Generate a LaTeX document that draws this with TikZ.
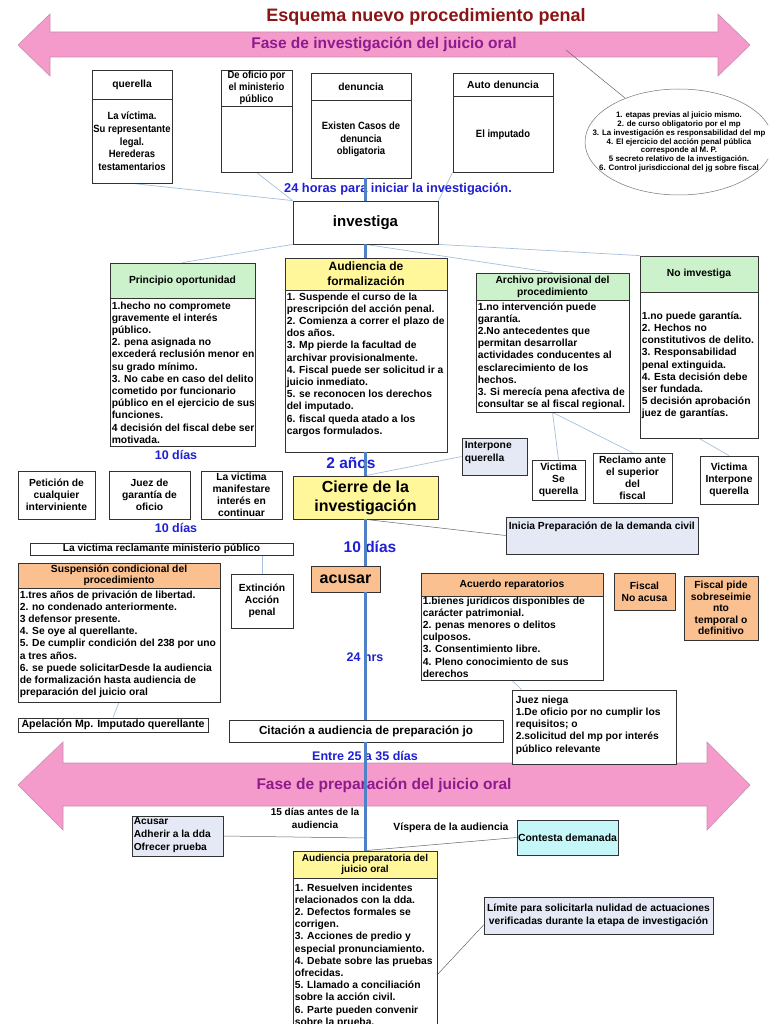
\documentclass[tikz,border=0pt]{standalone}
\usepackage{fontspec}
\setmainfont{Liberation Sans}
\newfontfamily\nar{Liberation Sans}[FakeStretch=0.9]
\usetikzlibrary{calc,shapes.geometric,backgrounds}
\definecolor{titlered}{HTML}{8B1414}
\definecolor{phasepurple}{HTML}{8E1A8E}
\definecolor{pinkfill}{HTML}{F59BCB}
\definecolor{pinkline}{HTML}{C98FAE}
\definecolor{labblue}{HTML}{1F1FD6}
\definecolor{spineblue}{HTML}{4F81C7}
\definecolor{connblue}{HTML}{A7C0DE}
\definecolor{hgreen}{HTML}{CCF2CC}
\definecolor{hyellow}{HTML}{FFF799}
\definecolor{horange}{HTML}{FAC090}
\definecolor{lavender}{HTML}{E4E9F5}
\definecolor{lcyan}{HTML}{C6F7F8}
\newcommand\fsz[2]{\fontsize{#1}{#2}\selectfont}
\begin{document}
\begin{tikzpicture}[x=1pt,y=-1pt,
  bx/.style={draw=black!80, line width=0.8pt, fill=white, inner sep=0pt},
  hd/.style={bx, font=\bfseries\fsz{10.3}{12}, align=center},
  tx/.style={font=\bfseries\fsz{10.3}{12.2}, align=left, inner sep=0pt},
  ctx/.style={font=\bfseries\fsz{10.3}{12.2}, align=center, inner sep=0pt},
  ntx/.style={font=\nar\bfseries\fsz{10.5}{12.7}, align=center, inner sep=0pt},
  blab/.style={text=labblue, font=\bfseries\fsz{12.5}{14}, inner sep=0pt},
  bigblab/.style={text=labblue, font=\bfseries\fsz{15.5}{17}, inner sep=0pt},
  phase/.style={text=phasepurple, font=\bfseries\fsz{15.5}{17}, inner sep=0pt},
  conn/.style={draw=connblue, line width=0.7pt},
  grayconn/.style={draw=black!60, line width=0.5pt},
  spine/.style={draw=spineblue, line width=2.8pt},
  pinkarrow/.style={fill=pinkfill, draw=pinkline, line width=0.6pt},
]
\clip (0,0) rectangle (768,1024);

% ---------- title and phase arrows ----------
\node[font=\bfseries\fsz{18}{21}, text=titlered, inner sep=0pt] (title) at (426,17) {Esquema nuevo procedimiento penal};
\node[phase] (fase1) at (384,44) {Fase de investigación del juicio oral};
\node[phase] (fase2) at (384,785) {Fase de preparación del juicio oral};
\coordinate (fase1end) at (566,50);

% ellipse
\node[ellipse, draw=black!55, line width=0.5pt, fill=white, minimum width=188, minimum height=106, inner sep=0pt] (ell) at (679,142) {};
\node[font=\bfseries\fsz{7.9}{8.9}, align=center, inner sep=0pt] (elltxt) at (ell.center) {1. etapas previas al juicio mismo.\\2. de curso obligatorio por el mp\\3. La investigación es responsabilidad del mp\\4. El ejercicio del acción penal pública\\corresponde al M. P.\\5 secreto relativo de la investigación.\\6. Control jurisdiccional del jg sobre fiscal};

% ---------- top row ----------
\node[bx, minimum width=80, minimum height=113] (q) at (132,126.5) {};
\node[hd, minimum width=80, minimum height=29, anchor=north] (qh) at (q.north) {querella};
\node[ntx] (qt) at ($(qh.south)!0.5!(q.south)$) {La víctima.\\Su representante\\legal.\\Herederas\\testamentarios};

\node[bx, minimum width=71, minimum height=102] (do) at (256.5,121) {};
\node[hd, font=\nar\bfseries\fsz{10.5}{12}, minimum width=71, minimum height=36, anchor=north] (doh) at (do.north) {De oficio por\\el ministerio\\público};

\node[bx, minimum width=100, minimum height=105] (den) at (361,125.5) {};
\node[hd, minimum width=100, minimum height=27, anchor=north] (denh) at (den.north) {denuncia};
\node[ntx] (dent) at ($(denh.south)!0.5!(den.south)$) {Existen Casos de\\denuncia\\obligatoria};

\node[bx, minimum width=100, minimum height=99] (ad) at (503,122.5) {};
\node[hd, minimum width=100, minimum height=23, anchor=north] (adh) at (ad.north) {Auto denuncia};
\node[ntx] (adt) at ($(adh.south)!0.5!(ad.south)$) {El imputado};

\node[blab, font=\bfseries\fsz{12.8}{14}] (h24) at (398,189) {24 horas para iniciar la investigación.};

\node[bx, minimum width=145, minimum height=43, font=\bfseries\fsz{15}{17}] (inv) at (365.5,222.5) {investiga};

% ---------- second row ----------
\node[bx, minimum width=145, minimum height=183] (po) at (182.5,354.5) {};
\node[hd, fill=hgreen, minimum width=145, minimum height=35, anchor=north] (poh) at (po.north) {Principio oportunidad};
\node[tx, anchor=north west] (pot) at ($(poh.south west)+(2,3)$) {1.hecho no compromete\\gravemente el interés\\público.\\2. pena asignada no\\excederá reclusión menor en\\su grado mínimo.\\3. No cabe en caso del delito\\cometido por funcionario\\público en el ejercicio de sus\\funciones.\\4 decisión del fiscal debe ser\\motivada.};

\node[bx, minimum width=162, minimum height=194] (af) at (366,355) {};
\node[hd, fill=hyellow, minimum width=162, minimum height=32, anchor=north, font=\bfseries\fsz{12}{15}] (afh) at (af.north) {Audiencia de\\formalización};
\node[tx, anchor=north west] (aft) at ($(afh.south west)+(2,2)$) {1. Suspende el curso de la\\prescripción del acción penal.\\2. Comienza a correr el plazo de\\dos años.\\3. Mp pierde la facultad de\\archivar provisionalmente.\\4. Fiscal puede ser solicitud ir a\\juicio inmediato.\\5. se reconocen los derechos\\del imputado.\\6. fiscal queda atado a los\\cargos formulados.};

\node[bx, minimum width=153, minimum height=139] (arch) at (552.5,342.5) {};
\node[hd, fill=hgreen, minimum width=153, minimum height=27, anchor=north] (archh) at (arch.north) {Archivo provisional del\\procedimiento};
\node[tx, anchor=north west] (archt) at ($(archh.south west)+(2,2)$) {1.no intervención puede\\garantía.\\2.No antecedentes que\\permitan desarrollar\\actividades conducentes al\\esclarecimiento de los\\hechos.\\3. Si merecía pena afectiva de\\consultar se al fiscal regional.};

\node[bx, minimum width=118, minimum height=182] (noinv) at (699,347) {};
\node[hd, fill=hgreen, minimum width=118, minimum height=36, anchor=north] (noinvh) at (noinv.north) {No imvestiga};
\node[tx, anchor=west] (noinvt) at ($(noinvh.south west)!0.5!(noinv.south west)+(2,0)$) {1.no puede garantía.\\2. Hechos no\\constitutivos de delito.\\3. Responsabilidad\\penal extinguida.\\4. Esta decisión debe\\ser fundada.\\5 decisión aprobación\\juez de garantías.};

% ---------- small boxes row ----------
\node[blab] (d10a) at (176,455) {10 días};
\node[bigblab] (a2) at (351,463) {2 años};

\node[bx, fill=lavender, minimum width=65, minimum height=37] (ipq) at (494.5,456.5) {};
\node[tx, anchor=north west] (ipqt) at ($(ipq.north west)+(3,4)$) {Interpone\\querella};
\node[bx, ctx, minimum width=53, minimum height=40] (vsq) at (558.5,480) {Victima\\Se\\querella};
\node[bx, ctx, minimum width=79, minimum height=50] (rsf) at (632.5,478) {Reclamo ante\\el superior\\del\\fiscal};
\node[bx, ctx, minimum width=58, minimum height=48] (vipq) at (729,480) {Victima\\Interpone\\querella};

\node[bx, ctx, minimum width=77, minimum height=48] (pet) at (56.5,495) {Petición de\\cualquier\\interviniente};
\node[bx, ctx, minimum width=81, minimum height=48] (jgo) at (149.5,495) {Juez de\\garantía de\\oficio};
\node[bx, ctx, minimum width=81, minimum height=48] (lvm) at (241.5,495) {La victima\\manifestare\\interés en\\continuar};
\node[bx, fill=hyellow, minimum width=145, minimum height=43, align=center, font=\bfseries\fsz{16}{19}] (ci) at (365.5,497.5) {Cierre de la\\investigación};

\node[blab] (d10b) at (176,528) {10 días};
\node[bigblab] (d10c) at (370,547) {10 días};

\node[bx, fill=lavender, minimum width=192, minimum height=37] (ipdc) at (602,535.5) {};
\node[tx, anchor=north west] (ipdct) at ($(ipdc.north west)+(3,5)$) {Inicia Preparación de la demanda civil};

\node[bx, minimum width=263, minimum height=12, font=\bfseries\fsz{10.2}{11}] (lvr) at (161.5,549) {La victima reclamante ministerio público};

% ---------- acusar row ----------
\node[bx, minimum width=202, minimum height=139] (sus) at (119,632.5) {};
\node[hd, fill=horange, minimum width=202, minimum height=25, anchor=north, font=\bfseries\fsz{10.3}{11}] (sush) at (sus.north) {Suspensión condicional del\\procedimiento};
\node[tx, anchor=north west] (sust) at ($(sush.south west)+(2,2)$) {1.tres años de privación de libertad.\\2. no condenado anteriormente.\\3 defensor presente.\\4. Se oye al querellante.\\5. De cumplir condición del 238 por uno\\a tres años.\\6. se puede solicitarDesde la audiencia\\de formalización hasta audiencia de\\preparación del juicio oral};

\node[bx, ctx, minimum width=62, minimum height=54] (ext) at (262,601) {Extinción\\Acción\\penal};
\node[bx, fill=horange, minimum width=69, minimum height=26, font=\bfseries\fsz{16}{18}] (ac) at (345.5,579) {acusar};

\node[bx, minimum width=182, minimum height=107] (arep) at (512,626.5) {};
\node[hd, fill=horange, minimum width=182, minimum height=23, anchor=north] (areph) at (arep.north) {Acuerdo reparatorios};
\node[tx, anchor=north west] (arept) at ($(areph.south west)+(2,0)$) {1.bienes jurídicos disponibles de\\carácter patrimonial.\\2. penas menores o delitos\\culposos.\\3. Consentimiento libre.\\4. Pleno conocimiento de sus\\derechos};

\node[bx, ctx, fill=horange, minimum width=61, minimum height=37] (fna) at (644.5,591.5) {Fiscal\\No acusa};
\node[bx, ctx, fill=horange, minimum width=74, minimum height=64, font=\bfseries\fsz{10.3}{11.6}] (fps) at (721,608) {Fiscal pide\\sobreseimie\\nto\\temporal o\\definitivo};

\node[blab] (h24b) at (365,657) {24 hrs};

\node[bx, minimum width=190, minimum height=14, font=\bfseries\fsz{10.6}{11}] (apel) at (113,725) {Apelación Mp. Imputado querellante};
\node[bx, minimum width=164, minimum height=74] (jn) at (594,727) {};
\node[tx, anchor=north west] (jnt) at ($(jn.north west)+(4,6)$) {Juez niega\\1.De oficio por no cumplir los\\requisitos; o\\2.solicitud del mp por interés\\público relevante};

\node[bx, minimum width=274, minimum height=22, font=\bfseries\fsz{11.7}{12}] (cit) at (366,731) {Citación a audiencia de preparación jo};
\node[blab] (e2535) at (365,756) {Entre 25 a 35 días};

% ---------- preparation phase ----------
\node[font=\bfseries\fsz{10}{12.5}, align=center, inner sep=0pt] (d15) at (315,818.5) {15 días antes de la\\audiencia};
\node[font=\bfseries\fsz{10.4}{12}, inner sep=0pt] (visp) at (451,828) {Víspera de la audiencia};
\node[bx, fill=lavender, minimum width=91, minimum height=40] (aap) at (177.5,836) {};
\node[tx, font=\bfseries\fsz{10.2}{13.3}, anchor=north west] (aapt) at ($(aap.north west)+(2,1.5)$) {Acusar\\Adherir a la dda\\Ofrecer prueba};
\node[bx, fill=lcyan, minimum width=101, minimum height=35, font=\bfseries\fsz{10.4}{12}] (cd) at (567.5,837.5) {Contesta demanada};

\node[bx, minimum width=144, minimum height=200] (app) at (365,951) {};
\node[hd, fill=hyellow, minimum width=144, minimum height=27, anchor=north, font=\bfseries\fsz{10}{11.5}] (apph) at (app.north) {Audiencia preparatoria del\\juicio oral};
\node[tx, anchor=north west] (appt) at ($(apph.south west)+(2,5)$) {1. Resuelven incidentes\\relacionados con la dda.\\2. Defectos formales se\\corrigen.\\3. Acciones de predio y\\especial pronunciamiento.\\4. Debate sobre las pruebas\\ofrecidas.\\5. Llamado a conciliación\\sobre la acción civil.\\6. Parte pueden convenir\\sobre la prueba.};

\node[bx, fill=lavender, minimum width=229, minimum height=37, align=center, font=\bfseries\fsz{10.3}{12.5}] (lim) at (598.5,915.5) {Límite para solicitarla nulidad de actuaciones\\verificadas durante la etapa de investigación};

\coordinate (sp1) at (365.5,838);
\coordinate (appe) at (437,975);

% ---------- background: arrows and thin connectors ----------
\begin{scope}[on background layer]
\fill[white] (0,0) rectangle (768,1024);
\draw[pinkarrow] (18,45) -- (50,14) -- (50,32) -- (718,32) -- (718,14) -- (750,45) -- (718,76) -- (718,57) -- (50,57) -- (50,76) -- cycle;
\draw[pinkarrow] (18,785) -- (63,742) -- (63,763) -- (707,763) -- (707,742) -- (750,785) -- (707,830) -- (707,806) -- (63,806) -- (63,830) -- cycle;
\draw[grayconn] (fase1end) -- (ell);
\draw[conn] (q.south) -- (inv.north west);
\draw[conn] (do.south) -- (inv.north west);
\draw[conn] (ad.south west) -- (inv.north east);
\draw[conn] (inv.south west) -- (po.north);
\draw[conn] (inv.south) -- (arch.north);
\draw[conn] (inv.south east) -- (noinv.north west);
\draw[conn] (ipq.west) -- (ci.north);
\draw[conn] (arch.south) -- (vsq.north);
\draw[conn] (arch.south) -- (rsf.north);
\draw[conn] (noinv.south) -- (vipq.north);
\draw[grayconn] (ci.south) -- (ipdc.west);
\draw[conn] (ext.north) -- (ext.north |- lvr.south);
\draw[conn] (sus.south) -- (apel.north);
\draw[conn] (arep.south) -- ($(jn.north west)+(10,0)$);
\draw[grayconn] (aap.east) -- (sp1);
\draw[grayconn] (cd.west) -- (app.north);
\draw[grayconn] (appe) -- ($(lim.west)!0.5!(lim.south west)$);
\end{scope}

% ---------- main spine ----------
\draw[spine] (inv.north) -- (inv.north |- den.south);
\draw[spine] (inv.south) -- (inv.south |- af.north);
\draw[spine] (ci.north) -- (ci.north |- af.south);
\draw[spine] (ci.south) -- (ci.south |- ac.north);
\draw[spine] (ci.south |- ac.south) -- (ci.south |- cit.north);
\draw[spine] (ci.south |- cit.south) -- (ci.south |- app.north);
\end{tikzpicture}
\end{document}
